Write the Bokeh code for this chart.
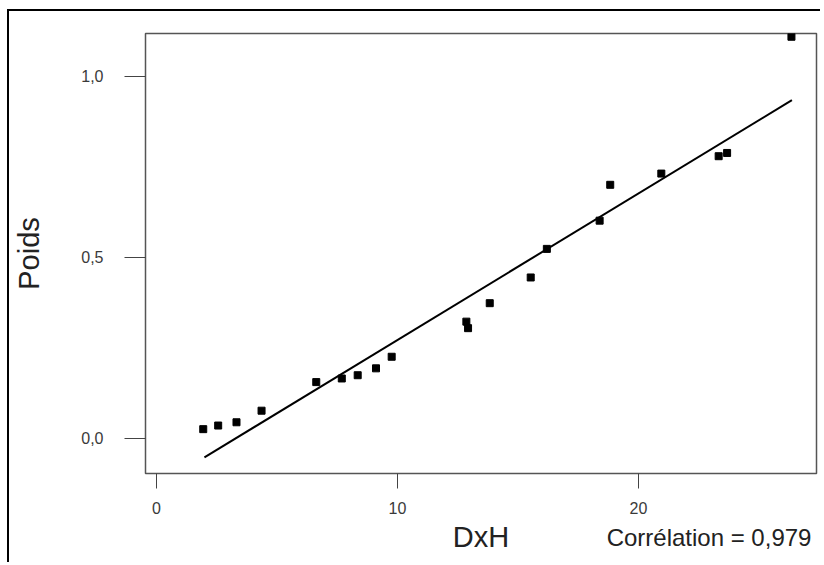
from bokeh.plotting import figure
from bokeh.models import Range1d, FixedTicker, LinearAxis, ColumnDataSource
from bokeh.embed import file_html
from bokeh.resources import INLINE

# Data
dxh = [1.94, 2.56, 3.32, 4.36, 6.63, 7.69, 8.35, 9.11, 9.76,
       12.86, 12.93, 13.83, 15.53, 16.2, 18.39, 18.83, 20.95,
       23.33, 23.68, 26.35]
poids = [0.025, 0.035, 0.044, 0.076, 0.155, 0.165, 0.174, 0.193, 0.225,
         0.322, 0.304, 0.373, 0.444, 0.523, 0.601, 0.700, 0.731,
         0.779, 0.788, 1.109]
fit_x = [1.99, 26.37]
fit_y = [-0.053, 0.934]

x_ticks = [0, 10, 20]
x_tick_labels = ["0", "10", "20"]
y_ticks = [0.0, 0.5, 1.0]
y_tick_labels = ["0,0", "0,5", "1,0"]
correlation_text = "Corrélation = 0,979"
correlation_anchor = [22.93]

FONT = "Liberation Sans"

p = figure(width=813, height=553, output_backend="svg", toolbar_location=None,
           x_range=Range1d(-0.456, 27.39), y_range=Range1d(-0.0975, 1.118),
           min_border_left=136, min_border_right=6, min_border_top=22,
           min_border_bottom=91)
p.styles = {"border-left": "2px solid black", "border-top": "2px solid black",
            "margin-left": "7px", "margin-top": "9px"}

p.xgrid.visible = False
p.ygrid.visible = False
p.outline_line_color = "#555555"
p.outline_line_width = 1.5
p.background_fill_color = "white"
p.border_fill_color = "white"

src = ColumnDataSource(dict(x=dxh, y=poids))
p.line(fit_x, fit_y, line_color="black", line_width=2)
p.scatter("x", "y", source=src, marker="square", size=7, color="black")

for ax in (p.xaxis[0], p.yaxis[0]):
    ax.axis_line_color = None
    ax.major_tick_in = 0
    ax.minor_tick_line_color = None
    ax.major_tick_line_color = "#444444"
    ax.major_tick_line_width = 1
    ax.major_label_text_font = FONT
    ax.major_label_text_font_size = "16px"
    ax.major_label_text_color = "#3a3a3a"
    ax.axis_label_text_font = FONT
    ax.axis_label_text_font_style = "normal"
    ax.axis_label_text_color = "#222222"
    ax.axis_label_text_font_size = "29px"

p.xaxis.ticker = FixedTicker(ticks=x_ticks)
p.xaxis.major_label_overrides = dict(zip(x_ticks, x_tick_labels))
p.yaxis.ticker = FixedTicker(ticks=y_ticks)
p.yaxis.major_label_overrides = dict(zip(y_ticks, y_tick_labels))

p.xaxis.major_tick_out = 15
p.xaxis.major_label_standoff = 13

p.yaxis.major_tick_out = 21
p.yaxis.major_label_standoff = 21
p.yaxis.axis_label = "Poids"
p.yaxis.axis_label_standoff = 33

# second bottom axis: carries the correlation note (as its only tick label)
# and the "DxH" axis title on the same row
ax2 = LinearAxis(ticker=FixedTicker(ticks=correlation_anchor),
                 major_label_overrides={correlation_anchor[0]: correlation_text})
ax2.axis_line_color = None
ax2.major_tick_line_color = None
ax2.major_tick_in = 0
ax2.major_tick_out = 0
ax2.minor_tick_line_color = None
ax2.major_label_standoff = 7
ax2.major_label_text_font = FONT
ax2.major_label_text_font_size = "24px"
ax2.major_label_text_color = "#222222"
ax2.axis_label = "DxH"
ax2.axis_label_text_font = FONT
ax2.axis_label_text_font_style = "normal"
ax2.axis_label_text_color = "#222222"
ax2.axis_label_text_font_size = "29px"
ax2.axis_label_standoff = -33
p.add_layout(ax2, "below")

open("out.html", "w").write(file_html(p, INLINE))
